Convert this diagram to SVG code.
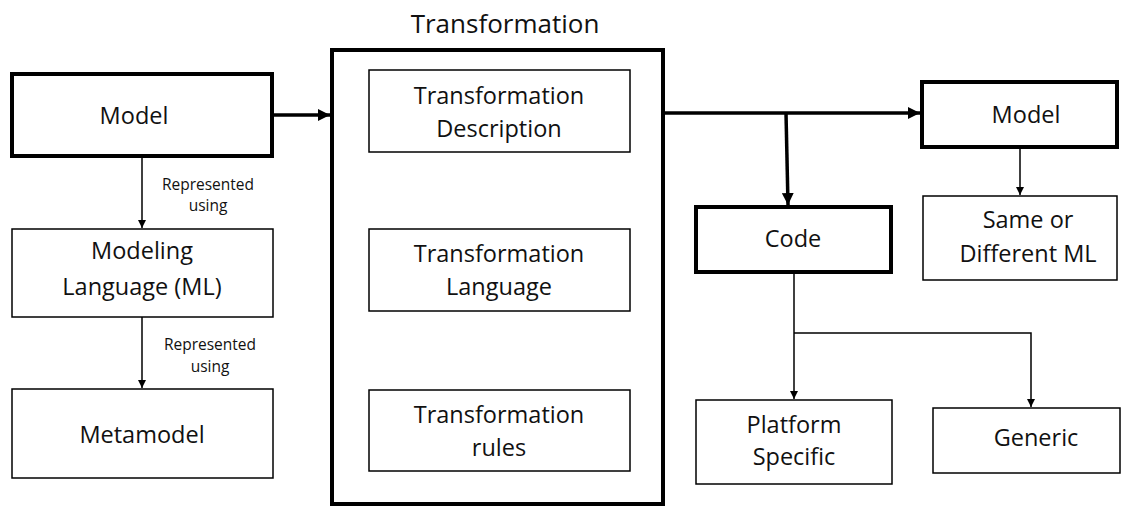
<svg xmlns="http://www.w3.org/2000/svg" width="1123" height="507" viewBox="0 0 1123 507">
<style>
text{font-family:"Open Sans","Noto Sans","DejaVu Sans",sans-serif;fill:#111;text-anchor:middle}
.t{font-size:23.5px}
.s{font-size:15.5px}
.thick{fill:#fff;stroke:#000;stroke-width:4}
.thin{fill:#fff;stroke:#000;stroke-width:1.5}
.c{fill:none;stroke:#000;stroke-width:1.5}
.cb{fill:none;stroke:#000;stroke-width:3.5}
</style>
<defs>
<marker id="a" viewBox="0 0 10 10" refX="10" refY="5" markerWidth="8" markerHeight="8" markerUnits="userSpaceOnUse" orient="auto"><path d="M0,0L10,5L0,10z" fill="#000"/></marker>
<marker id="ab" viewBox="0 0 10 10" refX="10" refY="5" markerWidth="12" markerHeight="12" markerUnits="userSpaceOnUse" orient="auto"><path d="M0,0L10,5L0,10z" fill="#000"/></marker>
</defs>
<g id="connectors">
<path class="cb" d="M273,115H330" marker-end="url(#ab)"/>
<path class="c" d="M142,157V228" marker-end="url(#a)"/>
<path class="c" d="M142,317V388" marker-end="url(#a)"/>
<path class="cb" d="M664,113H920" marker-end="url(#ab)"/>
<path class="cb" d="M786,113L788,205" marker-end="url(#ab)"/>
<path class="c" d="M1020,147V195" marker-end="url(#a)"/>
<path class="c" d="M794,272V399" marker-end="url(#a)"/>
<path class="c" d="M794,333H1031V407" marker-end="url(#a)"/>
</g>
<g id="model"><rect class="thick" x="12" y="74" width="260" height="82"/><text class="t" x="134" y="124">Model</text></g>
<g id="ml"><rect class="thin" x="12" y="229" width="261" height="88"/><text class="t" x="142" y="259">Modeling</text><text class="t" x="142" y="295">Language (ML)</text></g>
<g id="metamodel"><rect class="thin" x="12" y="389" width="261" height="89"/><text class="t" x="142" y="443">Metamodel</text></g>
<text class="s" x="208" y="190">Represented</text><text class="s" x="208" y="211">using</text>
<text class="s" x="210" y="350">Represented</text><text class="s" x="210" y="372">using</text>
<g id="transformation">
<text x="505" y="33" style="font-size:26px">Transformation</text>
<rect class="thick" x="332" y="50" width="331" height="454"/>
<g id="tdesc"><rect class="thin" x="369" y="70" width="261" height="82"/><text class="t" x="499" y="104">Transformation</text><text class="t" x="499" y="137">Description</text></g>
<g id="tlang"><rect class="thin" x="369" y="229" width="261" height="82"/><text class="t" x="499" y="262">Transformation</text><text class="t" x="499" y="295">Language</text></g>
<g id="trules"><rect class="thin" x="369" y="390" width="261" height="81"/><text class="t" x="499" y="423">Transformation</text><text class="t" x="499" y="456">rules</text></g>
</g>
<g id="code"><rect class="thick" x="696" y="207" width="195" height="65"/><text class="t" x="793" y="247">Code</text></g>
<g id="model2"><rect class="thick" x="922" y="82" width="195" height="65"/><text class="t" x="1026" y="123">Model</text></g>
<g id="same"><rect class="thin" x="923" y="196" width="194" height="84"/><text class="t" x="1028" y="228">Same or</text><text class="t" x="1028" y="262">Different ML</text></g>
<g id="platform"><rect class="thin" x="696" y="400" width="196" height="84"/><text class="t" x="794" y="433">Platform</text><text class="t" x="794" y="465">Specific</text></g>
<g id="generic"><rect class="thin" x="933" y="408" width="187" height="65"/><text class="t" x="1036" y="446">Generic</text></g>
</svg>
